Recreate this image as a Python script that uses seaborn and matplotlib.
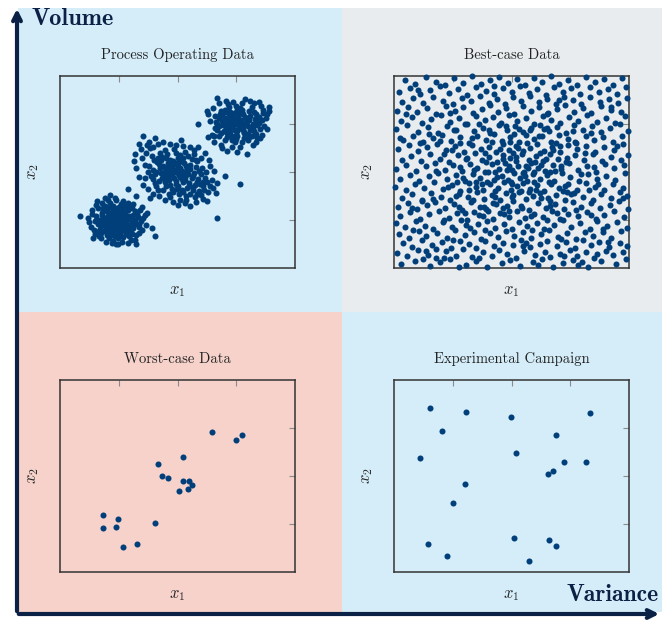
import numpy as np
import pandas as pd
import matplotlib
matplotlib.use("Agg")
import matplotlib.pyplot as plt
import matplotlib.patches as mpatches
import seaborn as sns

# --- data (axes run 0..4) ---
cluster_low = [
    (0.97,0.98),(0.90,1.02),(1.05,0.95),(0.85,0.93),(1.10,1.04),(0.95,0.88),(1.00,1.10),(0.88,1.08),(1.04,0.85),(0.93,0.96),
    (1.08,0.92),(0.82,1.00),(0.99,1.03),(1.13,0.99),(0.91,0.90),(1.02,1.15),(0.86,0.86),(0.96,1.06),(1.07,1.08),(0.94,0.80),
    (1.15,0.90),(0.80,1.06),(1.01,0.92),(0.89,0.97),(1.06,1.01),(0.98,0.84),(0.84,1.12),(1.11,1.12),(0.92,1.14),(1.03,0.78),
    (0.78,0.95),(1.18,1.02),(0.87,0.79),(1.00,0.97),(0.95,1.01),(1.09,0.87),(0.83,0.90),(0.97,1.18),(1.14,0.82),(0.90,1.20),
    (0.72,1.10),(0.70,0.88),(1.22,0.93),(1.25,1.10),(0.75,0.78),(1.20,0.75),(0.79,1.22),(1.16,1.20),(0.96,0.70),(1.05,1.25),
    (0.88,0.72),(1.12,0.70),(0.67,1.00),(1.28,1.00),(0.74,1.18),(1.24,0.83),(0.85,1.27),(1.00,1.28),(0.93,0.66),(1.18,0.66),
    (0.65,0.92),(1.30,0.92),(0.70,0.72),(1.27,1.18),(0.80,0.68),(1.08,0.64),(0.62,1.08),(1.33,1.06),(0.77,1.30),(0.98,0.62),
    (1.10,1.30),(0.68,0.82),(1.35,0.86),(0.73,1.25),(1.22,1.26),(0.90,1.30),(0.60,0.98),(1.38,0.98),(1.02,0.68),(0.83,0.62),
    (0.55,1.12),(0.50,0.95),(1.42,1.04),(1.40,0.80),(0.58,0.80),(1.30,0.68),(0.64,1.24),(0.85,1.36),(0.96,1.42),(1.15,1.36),
    (0.70,0.62),(1.20,0.58),(0.90,0.56),(1.05,0.55),(0.62,1.32),(1.45,1.10),(1.36,1.20),(0.48,1.04),(0.34,1.08),(1.56,0.84),
    (0.66,0.66),(1.15,0.52),(0.88,0.52),(0.63,1.40),(0.98,0.50),(1.28,0.58),(0.78,0.55),(1.46,0.90),(0.52,0.86),(1.34,0.72),
    (0.60,0.70),(0.82,1.42),(1.08,1.40),(1.25,1.34),(0.72,1.36),(0.54,1.20),(1.48,1.14),(0.57,0.62),(1.40,1.28),(0.94,1.46),
    (0.85,1.52),(0.96,0.49),(1.29,0.49),(1.30,1.50),(1.62,0.66),(0.76,1.46),
    (0.92,1.05),(1.03,1.06),(0.87,1.02),(1.12,0.95),(0.98,0.91),(0.79,0.86),(1.17,1.09),(0.89,1.14),(1.06,0.80),(0.81,1.16),
    (1.21,1.06),(0.74,1.04),(1.19,0.84),(0.86,0.75),(1.08,1.19),(0.99,0.75),(0.76,0.92),(1.26,0.96),(0.94,1.24),(1.13,0.77),
    (0.69,0.96),(1.31,1.13),(0.82,0.80),(1.16,1.27),(0.91,0.69),(1.04,1.34),(0.71,1.15),(1.23,0.70),(0.66,0.78),(1.34,0.92),
]
cluster_mid = [
    (1.96,1.99),(1.90,2.05),(2.02,1.93),(1.85,1.96),(2.08,2.03),(1.94,1.88),(2.00,2.12),(1.82,2.10),(2.12,1.90),(1.88,2.00),
    (2.05,2.08),(1.78,2.02),(1.98,1.82),(2.15,2.00),(1.92,2.15),(2.10,1.80),(1.80,1.90),(2.03,2.20),(1.86,1.84),(2.18,1.95),
    (1.95,2.05),(2.07,1.86),(1.75,2.12),(2.22,2.06),(1.89,1.93),(2.01,1.98),(1.84,2.18),(2.14,2.12),(1.97,1.75),(2.25,1.88),
    (1.72,1.98),(2.06,2.24),(1.93,2.22),(2.20,1.78),(1.79,1.80),(2.11,2.18),(1.87,2.26),(2.28,1.98),(1.70,2.08),(2.00,1.70),
    (1.65,2.20),(1.62,1.95),(2.32,2.10),(2.35,1.85),(1.68,1.82),(2.30,1.72),(1.74,2.32),(2.24,2.28),(1.90,1.65),(2.05,2.35),
    (1.80,1.70),(2.16,1.66),(1.58,2.05),(2.40,1.96),(1.66,2.30),(2.38,1.76),(1.82,2.38),(1.98,2.40),(1.92,1.58),(2.26,1.62),
    (1.55,1.92),(2.42,2.08),(1.60,2.26),(2.34,2.22),(1.76,1.62),(2.10,1.58),(1.52,2.12),(2.46,1.88),(1.70,2.40),(2.02,1.55),
    (2.18,2.34),(1.62,1.78),(2.44,1.70),(1.78,2.46),(2.12,2.42),(1.94,2.48),(1.50,2.00),(2.50,1.80),(2.08,1.62),(1.85,1.55),
    (2.22,1.55),(2.36,1.60),(2.28,2.38),(1.56,2.34),(2.40,2.30),(1.64,1.70),(2.48,2.00),(2.14,1.50),(1.88,1.48),(2.30,1.48),
    (1.40,2.30),(1.45,2.15),(1.38,2.48),(1.28,2.38),(1.26,2.22),(1.41,2.75),(1.35,2.58),(1.48,2.56),(1.58,2.52),(1.52,2.62),
    (1.66,2.58),(1.75,2.62),(1.87,2.58),(1.98,2.56),(2.10,2.55),(2.22,2.52),(2.35,2.53),(2.28,2.46),(1.45,1.88),(1.42,1.72),
    (1.50,1.64),(1.58,1.55),(1.68,1.50),(1.78,1.42),(1.92,1.38),(2.04,1.42),(2.12,1.36),(2.21,1.29),(2.32,1.38),(2.44,1.44),
    (2.50,1.40),(2.52,1.58),(2.60,1.66),(2.58,1.84),(2.67,1.78),(2.56,2.12),(2.62,2.02),(2.81,1.92),(2.54,2.26),(2.46,2.40),
    (1.34,1.90),(1.54,1.46),(2.00,1.32),(2.40,1.52),(1.62,2.70),(2.06,2.66),(1.30,2.08),(2.66,1.56),
    (1.16,1.65),(2.67,1.05),(3.06,1.74),(2.35,3.01),
    (1.99,2.02),(1.91,1.95),(2.09,1.97),(1.83,2.04),(2.04,1.89),(1.95,2.19),(2.16,2.06),(1.77,1.94),(2.13,1.84),(1.87,2.12),
    (2.21,2.15),(1.73,1.87),(2.27,1.92),(1.99,1.64),(2.09,2.30),(1.69,2.16),(2.33,1.80),(1.81,2.30),(2.19,1.70),(1.63,2.00),
    (2.37,2.02),(1.88,1.73),(2.00,2.30),(1.72,2.24),(2.31,2.26),(1.59,1.86),(2.43,1.80),(2.26,1.68),(1.67,1.63),(2.45,1.62),
    (2.15,1.42),(2.34,1.55),(2.55,1.70),(1.47,2.40),(1.54,2.50),
]
cluster_high = [
    (3.00,3.00),(2.94,3.05),(3.06,2.95),(2.90,2.96),(3.10,3.04),(2.98,2.88),(3.03,3.12),(2.88,3.10),(3.12,2.90),(2.95,2.98),
    (3.08,3.08),(2.85,3.02),(3.01,2.85),(3.16,3.00),(2.92,3.15),(3.14,2.84),(2.86,2.90),(3.04,3.20),(2.90,2.84),(3.20,2.96),
    (2.97,3.06),(3.09,2.89),(2.80,3.12),(3.22,3.08),(2.93,2.93),(3.02,3.01),(2.87,3.20),(3.15,3.15),(2.99,2.78),(3.24,2.88),
    (2.78,2.98),(3.07,3.24),(2.96,3.23),(3.20,2.80),(2.84,2.82),(3.12,3.20),(2.90,3.26),(3.28,3.00),(2.76,3.06),(3.02,2.74),
    (2.72,3.20),(2.70,2.95),(3.32,3.10),(3.30,2.86),(2.74,2.82),(3.26,2.74),(2.80,3.30),(3.22,3.28),(2.95,2.70),(3.06,3.34),
    (2.84,2.72),(3.14,2.70),(2.66,3.04),(3.36,2.98),(2.74,3.28),(3.34,2.80),(2.88,3.36),(3.00,3.38),(2.92,2.66),(3.20,2.66),
    (2.68,2.88),(3.38,3.14),(2.64,3.16),(3.30,3.24),(2.80,2.66),(3.10,2.62),(3.40,2.90),(3.26,3.36),(2.98,2.62),(2.86,3.42),
    (2.50,3.27),(2.52,3.20),(2.56,3.06),(2.52,2.72),(2.58,2.78),(2.62,2.74),(2.67,3.55),(2.70,3.44),(2.82,3.48),(2.95,3.46),
    (3.15,3.53),(3.10,3.44),(3.24,3.48),(3.30,3.44),(3.42,3.38),(3.46,3.30),(3.55,3.27),(3.52,3.20),(3.50,3.12),(3.48,2.96),
    (3.52,2.89),(3.44,2.78),(3.40,2.70),(3.34,2.62),(3.28,2.56),(3.18,2.37),(3.01,2.42),(2.84,2.44),(2.92,2.52),(3.06,2.52),
    (2.74,2.56),(2.62,2.62),(3.56,3.36),(2.60,3.34),(3.38,3.46),(2.76,2.50),
    (3.01,3.04),(2.93,2.99),(3.11,2.97),(2.87,3.06),(3.05,2.91),(2.97,3.15),(3.18,3.06),(2.82,2.94),(3.13,2.81),(2.89,3.17),
    (3.23,3.17),(2.79,2.86),(3.29,2.93),(3.00,2.69),(3.10,3.30),(2.71,3.12),(3.35,3.05),(2.83,3.24),(3.21,2.72),(2.68,3.00),
    (3.39,3.02),(2.92,2.76),(3.01,3.30),(2.76,3.18),(3.33,3.20),(2.63,2.92),(3.44,3.08),(3.36,2.70),(2.70,2.74),(3.45,3.22),
]
process_data = cluster_low + cluster_mid + cluster_high

best_case = [
    (0.12,0.08),(0.35,0.15),(0.61,0.04),(0.78,0.12),(0.95,0.18),(1.22,0.06),(1.40,0.14),(1.58,0.03),(1.83,0.10),(1.97,0.17),
    (2.15,0.05),(2.36,0.13),(2.52,0.19),(2.70,0.02),(2.88,0.11),(3.05,0.16),(3.14,0.07),(3.30,0.03),(3.52,0.15),(3.78,0.09),
    (3.95,0.18),(0.50,0.19),(1.10,0.02),(2.45,0.07),(3.20,0.12),
    (0.05,0.31),(0.22,0.24),(0.40,0.37),(0.58,0.28),(0.71,0.21),(0.88,0.35),(1.05,0.26),(1.18,0.39),(1.33,0.22),(1.51,0.33),
    (1.66,0.25),(1.79,0.38),(1.92,0.29),(2.08,0.21),(2.21,0.36),(2.40,0.27),(2.57,0.34),(2.66,0.22),(2.83,0.30),(2.99,0.38),
    (3.12,0.25),(3.27,0.33),(3.41,0.21),(3.60,0.36),(3.73,0.27),(3.90,0.34),(1.45,0.20),(2.90,0.24),
    (0.15,0.52),(0.30,0.44),(0.47,0.58),(0.65,0.47),(0.82,0.55),(0.97,0.42),(1.12,0.57),(1.27,0.49),(1.39,0.41),(1.55,0.56),
    (1.70,0.45),(1.86,0.53),(2.02,0.48),(2.17,0.59),(2.31,0.43),(2.48,0.51),(2.61,0.57),(2.77,0.46),(2.93,0.54),(3.08,0.41),
    (3.22,0.58),(3.36,0.47),(3.49,0.55),(3.66,0.43),(3.84,0.52),(3.97,0.45),(1.00,0.59),(2.25,0.52),(0.72,0.40),
    (0.08,0.70),(0.26,0.63),(0.42,0.77),(0.55,0.66),(0.74,0.73),(0.90,0.62),(1.03,0.79),(1.20,0.68),(1.36,0.75),(1.48,0.61),
    (1.63,0.72),(1.77,0.64),(1.90,0.78),(2.05,0.67),(2.19,0.74),(2.34,0.62),(2.50,0.71),(2.64,0.79),(2.79,0.65),(2.95,0.73),
    (3.10,0.61),(3.25,0.76),(3.39,0.67),(3.55,0.74),(3.70,0.63),(3.86,0.78),(1.55,0.79),(2.85,0.60),(0.33,0.79),
    (0.03,0.93),(0.19,0.85),(0.37,0.97),(0.52,0.88),(0.67,0.81),(0.84,0.95),(0.99,0.86),(1.14,0.99),(1.30,0.83),(1.43,0.91),
    (1.59,0.98),(1.72,0.84),(1.88,0.92),(2.00,0.81),(2.13,0.96),(2.27,0.87),(2.43,0.94),(2.56,0.82),(2.72,0.90),(2.87,0.99),
    (3.01,0.85),(3.17,0.93),(3.33,0.81),(3.46,0.97),(3.63,0.88),(3.80,0.95),(3.96,0.83),(1.22,0.90),(2.35,0.80),(3.55,0.82),
    (0.11,1.08),(0.28,1.16),(0.45,1.03),(0.60,1.12),(0.77,1.19),(0.93,1.05),(1.08,1.14),(1.24,1.01),(1.37,1.17),(1.52,1.09),
    (1.68,1.02),(1.81,1.15),(1.95,1.07),(2.10,1.19),(2.23,1.04),(2.38,1.12),(2.54,1.06),(2.69,1.18),(2.82,1.03),(2.97,1.13),
    (3.13,1.08),(3.28,1.17),(3.43,1.02),(3.58,1.11),(3.74,1.19),(3.91,1.06),(1.60,1.19),(2.60,1.00),(0.85,1.00),(3.35,1.10),
    (0.06,1.27),(0.24,1.35),(0.39,1.22),(0.56,1.31),(0.70,1.38),(0.87,1.24),(1.02,1.33),(1.16,1.21),(1.31,1.37),(1.46,1.28),
    (1.57,1.22),(1.74,1.34),(1.86,1.25),(2.03,1.39),(2.16,1.29),(2.29,1.21),(2.45,1.36),(2.58,1.26),(2.74,1.33),(2.90,1.23),
    (3.04,1.38),(3.19,1.28),(3.35,1.35),(3.50,1.24),(3.67,1.31),(3.83,1.39),(3.98,1.22),(1.93,1.30),(2.65,1.39),(1.10,1.28),
    (0.48,1.39),
    (0.14,1.46),(0.31,1.54),(0.48,1.42),(0.63,1.57),(0.80,1.48),(0.96,1.41),(1.11,1.55),(1.26,1.47),(1.41,1.59),(1.54,1.44),
    (1.67,1.52),(1.80,1.41),(1.90,1.56),(2.01,1.47),(2.12,1.58),(2.24,1.43),(2.36,1.51),(2.49,1.57),(2.62,1.45),(2.76,1.53),
    (2.91,1.42),(3.07,1.56),(3.21,1.48),(3.38,1.41),(3.53,1.54),(3.69,1.46),(3.85,1.58),(3.97,1.49),(1.72,1.60),(2.30,1.58),
    (1.35,1.42),(2.95,1.59),
    (0.02,1.68),(0.20,1.62),(0.36,1.75),(0.51,1.66),(0.68,1.79),(0.83,1.64),(0.98,1.72),(1.13,1.61),(1.28,1.77),(1.40,1.68),
    (1.52,1.63),(1.64,1.74),(1.77,1.66),(1.88,1.79),(1.99,1.62),(2.09,1.71),(2.20,1.78),(2.32,1.65),(2.44,1.73),(2.55,1.61),
    (2.68,1.76),(2.81,1.67),(2.96,1.74),(3.11,1.63),(3.26,1.78),(3.42,1.69),(3.57,1.62),(3.72,1.75),(3.89,1.66),(1.58,1.80),
    (2.38,1.80),(1.07,1.79),(2.88,1.60),
    (0.10,1.86),(0.27,1.94),(0.43,1.82),(0.59,1.91),(0.75,1.98),(0.91,1.85),(1.06,1.93),(1.21,1.81),(1.34,1.96),(1.47,1.87),
    (1.60,1.99),(1.71,1.83),(1.83,1.92),(1.94,1.84),(2.04,1.97),(2.14,1.88),(2.26,1.81),(2.37,1.95),(2.49,1.86),(2.60,1.93),
    (2.73,1.82),(2.86,1.97),(3.00,1.89),(3.15,1.81),(3.30,1.95),(3.45,1.86),(3.61,1.92),(3.76,1.83),(3.93,1.97),(1.99,1.80),
    (2.20,1.98),(1.40,1.80),(2.65,1.99),
    (0.04,2.07),(0.21,2.15),(0.38,2.03),(0.54,2.12),(0.69,2.19),(0.86,2.05),(1.00,2.14),(1.15,2.02),(1.29,2.17),(1.42,2.08),
    (1.55,2.01),(1.66,2.16),(1.78,2.06),(1.89,2.19),(2.00,2.04),(2.11,2.13),(2.22,2.00),(2.33,2.18),(2.45,2.09),(2.57,2.02),
    (2.70,2.15),(2.84,2.07),(2.98,2.19),(3.13,2.05),(3.28,2.13),(3.44,2.01),(3.59,2.16),(3.75,2.08),(3.91,2.14),(1.95,2.12),
    (2.28,2.08),(1.72,2.00),(2.40,2.20),
    (0.13,2.26),(0.29,2.34),(0.46,2.22),(0.62,2.37),(0.79,2.28),(0.94,2.21),(1.09,2.35),(1.23,2.27),(1.38,2.39),(1.50,2.24),
    (1.62,2.32),(1.75,2.21),(1.86,2.36),(1.97,2.29),(2.07,2.23),(2.18,2.38),(2.30,2.25),(2.42,2.33),(2.53,2.22),(2.66,2.37),
    (2.79,2.28),(2.93,2.21),(3.08,2.35),(3.23,2.26),(3.39,2.38),(3.54,2.23),(3.70,2.31),(3.87,2.24),(3.99,2.36),(2.02,2.40),
    (2.48,2.40),(1.55,2.40),
    (0.07,2.48),(0.25,2.56),(0.41,2.43),(0.57,2.52),(0.73,2.59),(0.89,2.45),(1.04,2.54),(1.19,2.41),(1.33,2.57),(1.48,2.47),
    (1.61,2.53),(1.73,2.42),(1.85,2.58),(1.96,2.46),(2.08,2.55),(2.19,2.43),(2.31,2.51),(2.43,2.58),(2.56,2.44),(2.69,2.52),
    (2.83,2.41),(2.97,2.57),(3.12,2.48),(3.27,2.55),(3.42,2.42),(3.58,2.53),(3.74,2.46),(3.90,2.59),(1.12,2.60),(2.75,2.60),
    (0.16,2.66),(0.33,2.74),(0.50,2.63),(0.66,2.71),(0.81,2.78),(0.97,2.64),(1.13,2.73),(1.27,2.61),(1.42,2.76),(1.57,2.67),
    (1.70,2.79),(1.84,2.65),(1.98,2.72),(2.12,2.62),(2.25,2.77),(2.39,2.68),(2.52,2.74),(2.67,2.63),(2.81,2.78),(2.96,2.69),
    (3.10,2.61),(3.26,2.75),(3.41,2.66),(3.56,2.73),(3.72,2.62),(3.88,2.76),(2.05,2.80),(0.60,2.80),
    (0.04,2.89),(0.22,2.97),(0.40,2.84),(0.58,2.93),(0.75,2.81),(0.90,2.96),(1.06,2.87),(1.21,2.99),(1.36,2.85),(1.51,2.92),
    (1.64,2.82),(1.79,2.98),(1.93,2.88),(2.06,2.95),(2.20,2.83),(2.34,2.91),(2.49,2.98),(2.63,2.86),(2.78,2.94),(2.92,2.82),
    (3.07,2.97),(3.22,2.88),(3.37,2.95),(3.52,2.83),(3.68,2.91),(3.84,2.99),(3.98,2.86),(1.45,3.00),
    (0.12,3.07),(0.30,3.15),(0.47,3.02),(0.63,3.11),(0.80,3.19),(0.95,3.05),(1.10,3.13),(1.25,3.01),(1.40,3.17),(1.55,3.08),
    (1.68,3.14),(1.82,3.03),(1.96,3.18),(2.10,3.06),(2.24,3.12),(2.38,3.01),(2.53,3.16),(2.68,3.09),(2.83,3.03),(2.98,3.15),
    (3.13,3.07),(3.29,3.19),(3.45,3.04),(3.61,3.12),(3.77,3.02),(3.93,3.16),(2.60,3.20),
    (0.05,3.28),(0.23,3.36),(0.39,3.24),(0.56,3.33),(0.72,3.21),(0.88,3.38),(1.03,3.27),(1.18,3.35),(1.34,3.22),(1.49,3.31),
    (1.63,3.39),(1.77,3.25),(1.91,3.34),(2.05,3.21),(2.19,3.37),(2.33,3.28),(2.47,3.35),(2.62,3.23),(2.77,3.32),(2.91,3.39),
    (3.06,3.26),(3.21,3.34),(3.36,3.22),(3.53,3.37),(3.69,3.29),(3.86,3.24),(0.95,3.22),
    (0.14,3.46),(0.32,3.54),(0.49,3.43),(0.66,3.57),(0.84,3.48),(1.00,3.41),(1.16,3.55),(1.31,3.47),(1.46,3.59),(1.61,3.44),
    (1.75,3.52),(1.89,3.42),(2.03,3.56),(2.17,3.47),(2.31,3.58),(2.46,3.45),(2.60,3.53),(2.75,3.41),(2.90,3.57),(3.04,3.49),
    (3.19,3.42),(3.34,3.56),(3.50,3.46),(3.66,3.53),(3.82,3.43),(3.97,3.55),
    (0.09,3.67),(0.27,3.75),(0.44,3.62),(0.61,3.71),(0.78,3.79),(0.93,3.65),(1.09,3.73),(1.24,3.61),(1.39,3.77),(1.56,3.68),
    (1.71,3.63),(1.86,3.76),(2.01,3.66),(2.15,3.79),(2.29,3.64),(2.44,3.72),(2.58,3.61),(2.73,3.78),(2.88,3.67),(3.02,3.74),
    (3.17,3.62),(3.33,3.77),(3.49,3.66),(3.64,3.73),(3.80,3.63),(3.95,3.78),
    (0.18,3.92),(0.36,3.84),(0.54,3.97),(0.71,3.88),(0.87,3.81),(1.02,3.95),(1.18,3.86),(1.33,3.99),(1.48,3.83),(1.64,3.91),
    (1.79,3.98),(1.94,3.85),(2.09,3.93),(2.23,3.82),(2.38,3.96),(2.52,3.87),(2.67,3.99),(2.81,3.84),(2.97,3.92),(3.11,3.81),
    (3.27,3.97),(3.42,3.88),(3.58,3.94),(3.73,3.82),(3.88,3.96),
    (1.05,1.50),(1.18,1.88),(1.25,2.30),(1.32,2.70),(1.44,1.10),(1.50,1.75),(1.56,2.20),(1.62,2.87),(1.69,1.35),(1.76,1.90),
    (1.81,2.48),(1.88,1.12),(1.92,2.05),(1.97,2.62),(2.03,1.52),(2.07,2.32),(2.13,2.90),(2.18,1.25),(2.23,1.92),(2.27,2.60),
    (2.34,1.08),(2.39,2.00),(2.46,2.75),(2.51,1.45),(2.58,2.28),(2.63,1.80),(2.71,2.45),(2.78,1.15),(2.84,2.12),(2.91,1.70),
    (1.12,2.10),(1.28,1.62),(1.37,2.05),(1.53,1.28),(1.66,2.62),(1.72,1.48),(1.85,2.27),(1.90,2.95),(2.00,1.75),(2.11,2.50),
    (2.17,1.60),(2.25,2.12),(2.32,2.88),(2.41,1.63),(2.50,2.15),(2.55,2.90),(2.66,1.30),(2.74,2.02),(2.82,2.55),(2.94,2.30),
    (3.02,1.55),(3.08,2.62),(3.18,1.95),(3.25,2.40),(3.32,1.62),(0.92,1.68),(0.85,2.38),(0.72,2.02),(0.66,1.44),(0.78,2.64),
    (3.40,2.10),(3.48,1.74),(3.35,2.82),(1.02,2.88),(1.20,1.15),(1.95,1.18),(2.60,2.92),(3.10,1.20),(0.98,2.45),(3.05,2.85),
    (0.30,1.25),(0.45,2.60),(0.20,3.20),(0.55,0.35),(3.65,0.55),(3.80,2.55),(3.70,3.35),(0.40,3.70),(2.20,0.45),(1.70,3.80),
    (2.80,3.50),(3.45,0.30),(0.85,0.20),(3.90,1.45),(0.10,2.70),
]

worst_x1 = [0.74, 0.74, 0.98, 0.96, 1.07, 1.31, 1.61, 1.66, 1.74, 1.83,
            2.10, 2.09, 2.19, 2.24, 2.03, 2.18, 2.59, 3.00, 3.10]
worst_x2 = [1.19, 0.92, 1.10, 0.93, 0.52, 0.59, 1.02, 2.26, 2.00, 1.95,
            2.40, 1.90, 1.89, 1.82, 1.69, 1.72, 2.91, 2.74, 2.85]

exp_x1 = [0.62, 1.23, 1.99, 3.34, 0.82, 2.76, 0.44, 2.07, 2.89, 3.27,
          2.62, 2.71, 1.20, 1.00, 0.58, 0.90, 2.05, 2.64, 2.76, 2.30]
exp_x2 = [3.42, 3.34, 3.23, 3.32, 2.93, 2.86, 2.37, 2.48, 2.30, 2.29,
          2.05, 2.10, 1.83, 1.44, 0.59, 0.33, 0.70, 0.67, 0.55, 0.23]

titles = ["Process Operating Data", "Best-case Data", "Worst-case Data", "Experimental Campaign"]

# --- style ---
sns.set_style("white")
plt.rcParams["mathtext.fontset"] = "cm"
plt.rcParams["font.family"] = ["cmr10", "DejaVu Serif"]
plt.rcParams["axes.unicode_minus"] = False

dot = "#003f7a"
navy = "#0b2246"
W, H = 662, 621

fig = plt.figure(figsize=(W / 100, H / 100), dpi=100)
fig.patch.set_facecolor("white")


def fx(px):
    return px / W


def fy(py):
    return 1 - py / H


# quadrant backgrounds
quads = [
    (18, 8, 342, 312, "#d4edf9"),
    (342, 8, 662, 312, "#e8ecee"),
    (18, 312, 342, 612, "#f6d2cb"),
    (342, 312, 662, 612, "#d4edf9"),
]
for x0, y0, x1, y1, c in quads:
    fig.patches.append(mpatches.Rectangle((fx(x0), fy(y1)), fx(x1) - fx(x0), fy(y0) - fy(y1),
                                          transform=fig.transFigure, facecolor=c, edgecolor="none", zorder=-5))


def panel(px, py, df, title, clip=True):
    ax = fig.add_axes([fx(px), fy(py + 192), fx(235), 192 / H])
    ax.set_facecolor("none")
    sns.scatterplot(data=df, x="x1", y="x2", ax=ax, color=dot, s=19, linewidth=0,
                    legend=False, clip_on=clip, zorder=3)
    ax.set_xlim(0, 4)
    ax.set_ylim(0, 4)
    ax.set_xticks([1, 2, 3])
    ax.set_yticks([1, 2, 3])
    ax.set_xticklabels([])
    ax.set_yticklabels([])
    ax.tick_params(direction="in", top=True, right=True, length=4, width=0.8, color="#8a8a8a")
    for sp in ax.spines.values():
        sp.set_color("#333333")
        sp.set_linewidth(1.1)
    ax.set_xlabel("$x_1$", fontsize=12, labelpad=8)
    ax.set_ylabel("$x_2$", fontsize=12, labelpad=10)
    ax.set_title(title, fontsize=10.5, pad=12, color="#222222")
    return ax


panel(60, 76, pd.DataFrame(process_data, columns=["x1", "x2"]), titles[0])
panel(394, 76, pd.DataFrame(best_case, columns=["x1", "x2"]), titles[1], clip=False)
panel(60, 380, pd.DataFrame({"x1": worst_x1, "x2": worst_x2}), titles[2])
panel(394, 380, pd.DataFrame({"x1": exp_x1, "x2": exp_x2}), titles[3])

# axis arrows
fig.add_artist(mpatches.FancyArrowPatch((fx(17), fy(614)), (fx(17), fy(6)), transform=fig.transFigure,
                                        arrowstyle="->", mutation_scale=14, lw=3, color=navy))
fig.add_artist(mpatches.FancyArrowPatch((fx(16), fy(614)), (fx(662), fy(614)), transform=fig.transFigure,
                                        arrowstyle="->", mutation_scale=14, lw=3, color=navy))
fig.text(fx(31), fy(19), "Volume", fontsize=17.5, family="cmb10", color=navy, va="center", ha="left")
fig.text(fx(659), fy(595), "Variance", fontsize=17, family="cmb10", color=navy, va="center", ha="right")

fig.savefig("out.png", dpi=100)
